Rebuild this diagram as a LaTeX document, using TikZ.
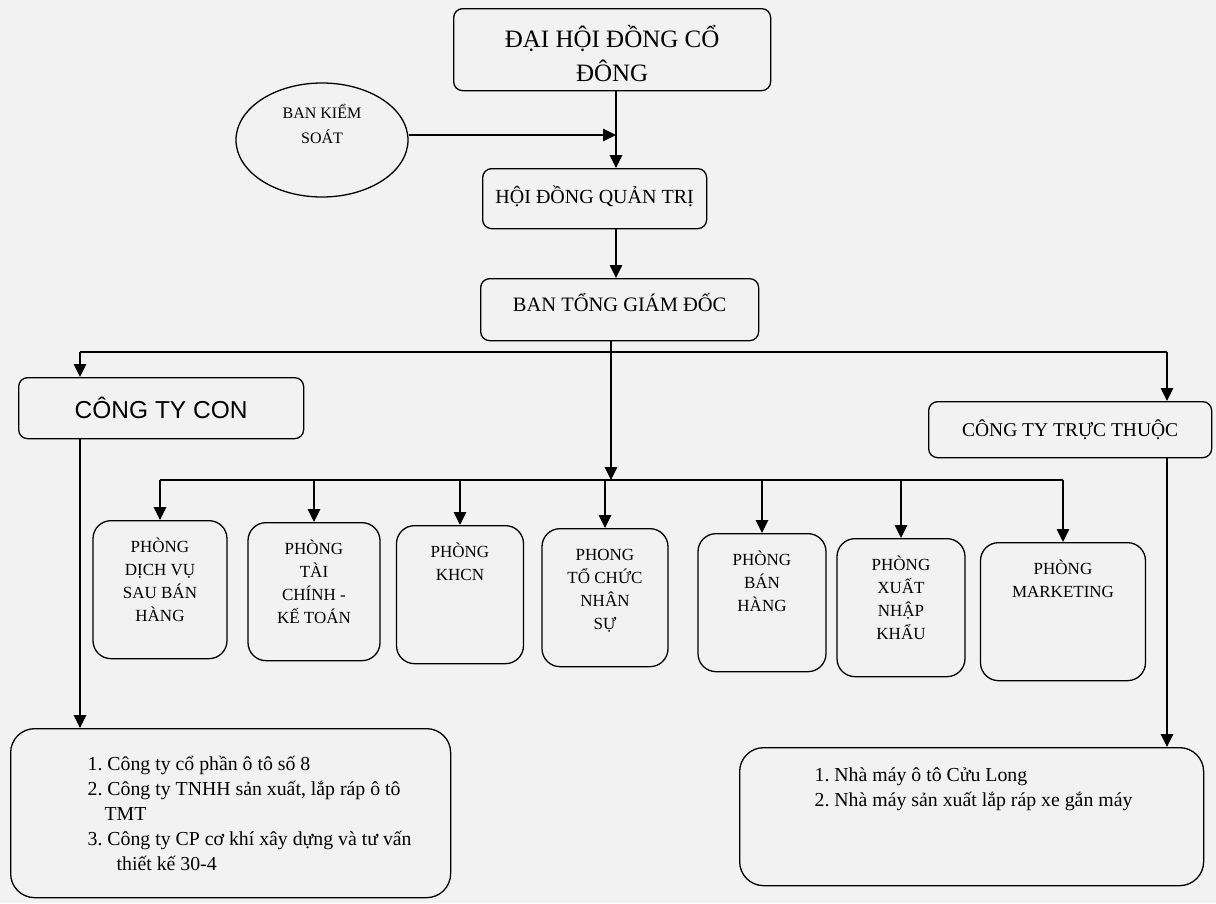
\documentclass[tikz,border=0pt]{standalone}
\usepackage{fontspec}
\setmainfont{Liberation Serif}
\newfontfamily\sansvn{Liberation Sans}
\usetikzlibrary{arrows.meta,shapes.geometric}
\frenchspacing

\tikzset{
	khung/.style={draw, line width=1.3pt, rounded corners=9pt, anchor=north west, inner sep=0pt},
	phong/.style={draw, line width=1.3pt, rounded corners=18pt, anchor=north, align=flush center, font=\fontsize{17}{23}\selectfont, text height=26pt, text depth=100pt, inner ysep=6pt, inner xsep=0pt},
	danhsach/.style={draw, line width=1.3pt, rounded corners=24pt, anchor=north west, align=flush left, inner xsep=8pt, font=\fontsize{19.8}{25}\selectfont},
	muiten/.style={line width=1.3pt, -{Triangle[length=13pt,width=12.5pt]}},
	noi/.style={line width=1.3pt}
}

\begin{document}
\begin{tikzpicture}[x=1pt, y=-1pt]
			%%%%% START %%%%%
			
			\fill[black!5] (0, 0) rectangle (1216, 903);
			\useasboundingbox (0, 0) rectangle (1216, 903);
			
			\node[khung, minimum height=82pt, text width=317pt, align=flush center, font=\fontsize{25}{34}\selectfont, text height=24pt, text depth=28pt] (dhdcd) at (453, 8) {ĐẠI HỘI ĐỒNG CỔ\\ĐÔNG};
			\node[draw, ellipse, line width=1.3pt, minimum width=172pt, minimum height=114pt, inner sep=0pt, text width=100pt, align=flush center, font=\fontsize{16}{25}\selectfont, text height=12pt, text depth=56pt] (bks) at (322, 140) {BAN KIỂM\\SOÁT};
			
			\node[khung, minimum width=224pt, minimum height=60pt, font=\fontsize{20}{24}\selectfont, text depth=8pt] (hdqt) at (482, 168) {HỘI ĐỒNG QUẢN TRỊ};
			\node[khung, minimum width=278pt, minimum height=62pt, font=\fontsize{20.5}{24}\selectfont, text depth=15pt] (btgd) at (480, 278) {BAN TỔNG GIÁM ĐỐC};
			
			\node[khung, minimum width=285pt, minimum height=61pt, font=\sansvn\fontsize{24.5}{28}\selectfont] (ctcon) at (18, 377) {CÔNG TY CON};
			\node[khung, minimum width=283pt, minimum height=56pt, font=\fontsize{19.5}{24}\selectfont] (cttt) at (928, 401) {CÔNG TY TRỰC THUỘC};
			
			\node[phong, text width=134pt] (p1) at (160, 520) {PHÒNG\\DỊCH VỤ\\SAU BÁN\\HÀNG};
			\node[phong, text width=132pt] (p2) at (314, 522) {PHÒNG\\TÀI\\CHÍNH -\\KẾ TOÁN};
			\node[phong, text width=127pt] (p3) at (460, 525) {PHÒNG\\KHCN};
			\node[phong, text width=126pt] (p4) at (605, 528) {PHONG\\TỔ CHỨC\\NHÂN\\SỰ};
			\node[phong, text width=128pt] (p5) at (762, 533) {PHÒNG\\BÁN\\HÀNG};
			\node[phong, text width=128pt] (p6) at (901, 538) {PHÒNG\\XUẤT\\NHẬP\\KHẨU};
			\node[phong, text width=165pt] (p7) at (1063, 542) {PHÒNG\\MARKETING};
			
			\node[danhsach, minimum height=169pt, text width=424pt] (ctycon) at (10, 728) {\hspace*{69pt}1. Công ty cổ phần ô tô số 8\\\hspace*{69pt}2. Công ty TNHH sản xuất, lắp ráp ô tô\\\hspace*{86pt}TMT\\\hspace*{69pt}3. Công ty CP cơ khí xây dựng và tư vấn\\\hspace*{98pt}thiết kế 30-4};
			\node[danhsach, text width=448pt, inner ysep=4pt, text height=30pt, text depth=100pt] (ctytt) at (739, 747) {\hspace*{67pt}1. Nhà máy ô tô Cửu Long\\\hspace*{67pt}2. Nhà máy sản xuất lắp ráp xe gắn máy};
			
			\coordinate (kjoin) at (616, 135);
			\coordinate (tbusL) at (80, 352);
			\coordinate (tbusR) at (1167, 352);
			\coordinate (pbus) at (611, 480);
			
			\draw[muiten] (dhdcd.south -| kjoin) -- (hdqt.north -| kjoin);
			\draw[muiten] (bks.east |- kjoin) -- (kjoin);
			\draw[muiten] (hdqt.south -| kjoin) -- (btgd.north -| kjoin);
			\draw[muiten] (btgd.south -| pbus) -- (pbus);
			
			\draw[noi] (tbusL) -- (tbusR);
			\draw[muiten] (tbusL) -- (ctcon.north -| tbusL);
			\draw[muiten] (tbusR) -- (cttt.north -| tbusR);
			
			\draw[noi] (p1.north |- pbus) -- (p7.north |- pbus);
			\foreach \i in {1,...,7}
				\draw[muiten] (p\i.north |- pbus) -- (p\i.north);
			
			\draw[muiten] (ctcon.south -| tbusL) -- (ctycon.north -| tbusL);
			\draw[muiten] (cttt.south -| tbusR) -- (ctytt.north -| tbusR);
			
			%%%%% END %%%%%
		\end{tikzpicture}
\end{document}
